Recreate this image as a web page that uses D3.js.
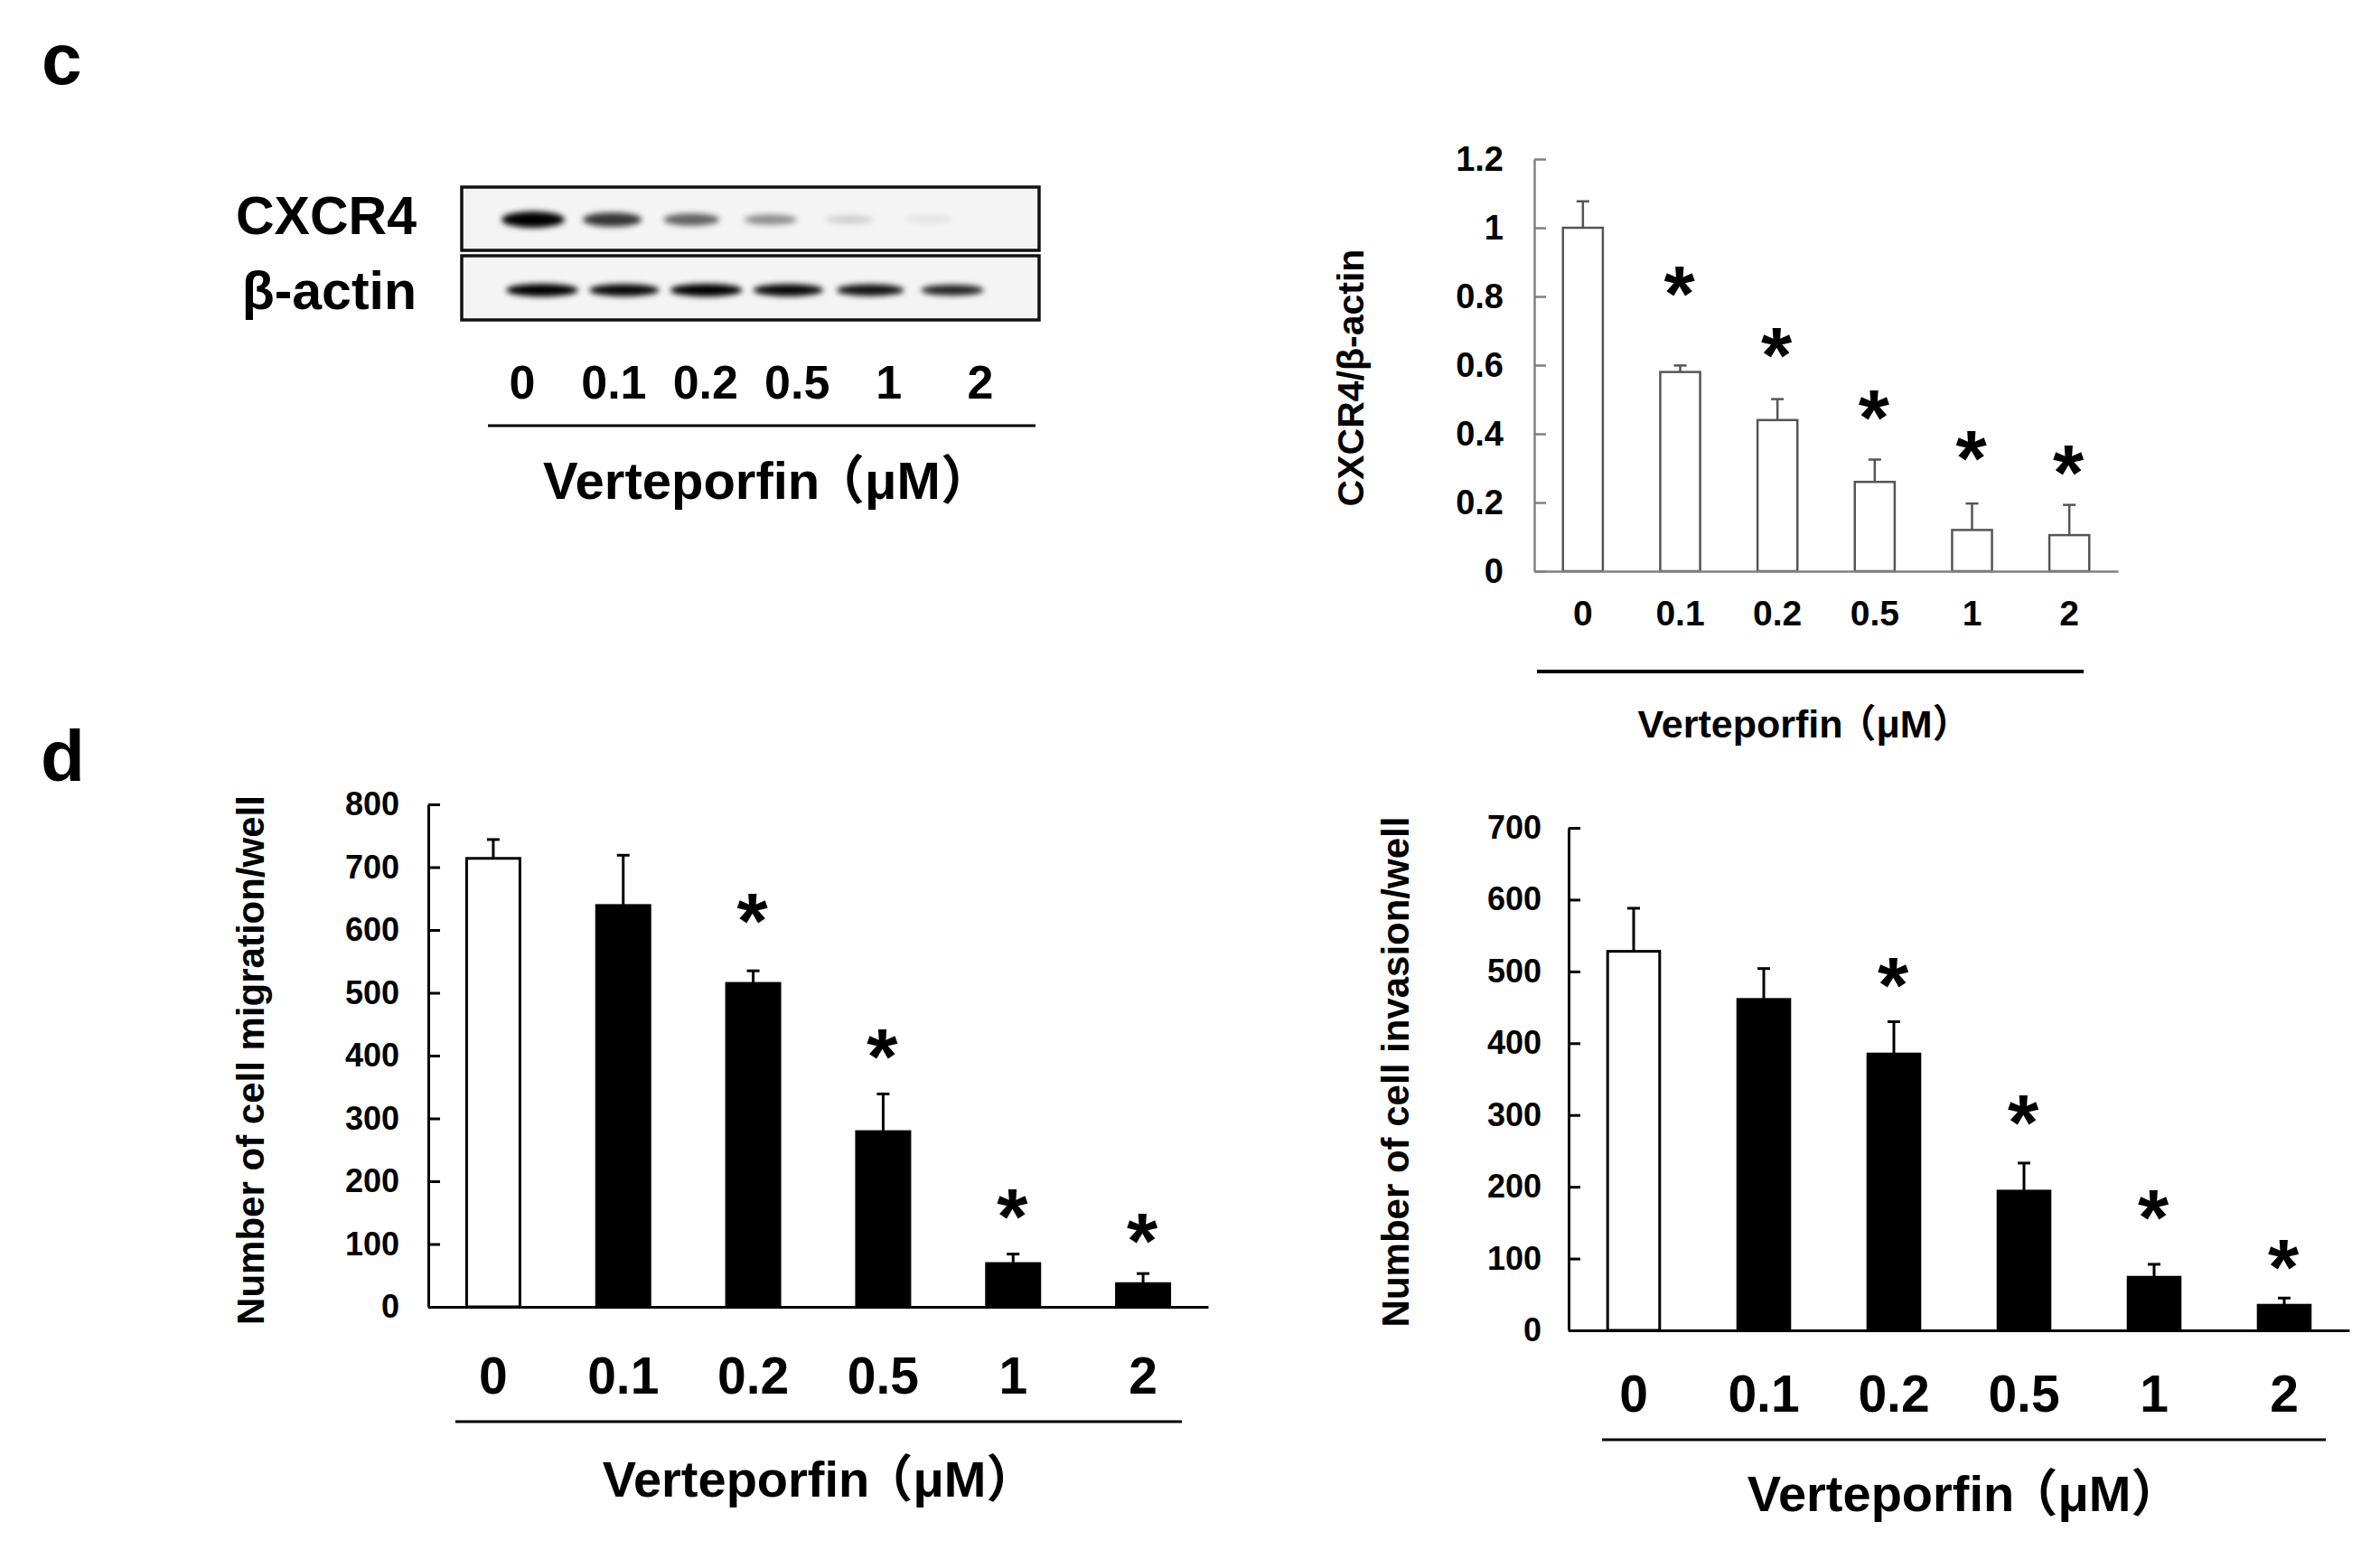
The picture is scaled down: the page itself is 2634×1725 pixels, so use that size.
<!DOCTYPE html>
<html><head><meta charset="utf-8">
<script src="https://cdn.jsdelivr.net/npm/d3@7"></script>
<style>
body{margin:0;background:#fff}
svg{display:block}
text{font-family:"Liberation Sans",Arial,"Noto Sans CJK SC",sans-serif;font-weight:bold;fill:#000}
</style>
</head><body>
<svg id="fig" width="2634" height="1725"></svg>
<script>
// ---------------- data ----------------
const doses = ["0", "0.1", "0.2", "0.5", "1", "2"];
const xTitleMain = "Verteporfin";
const xTitleUnit = "（μM）";

// western blot band intensities (relative darkness)
const cxcr4Band = [1.0, 0.78, 0.6, 0.42, 0.16, 0.08];
const actinBand = [1.0, 0.97, 1.0, 0.97, 0.93, 0.86];

// CXCR4/β-actin
const cxcr4Mean = [1.0, 0.58, 0.44, 0.26, 0.12, 0.105];
const cxcr4Err  = [0.077, 0.019, 0.061, 0.065, 0.077, 0.088];
const cxcr4Star = [null, 0.84, 0.66, 0.48, 0.36, 0.32];
const cxcr4Ticks = [0, 0.2, 0.4, 0.6, 0.8, 1, 1.2];

// migration
const migMean = [714, 639, 515, 279, 69, 37];
const migErr  = [30, 80, 20, 60, 15, 16];
const migStar = [null, null, 632, 416, 162, 123];
const migTicks = [0, 100, 200, 300, 400, 500, 600, 700, 800];

// invasion
const invMean = [528, 461, 385, 194, 74, 35];
const invErr  = [60, 43, 45, 39, 18, 10];
const invStar = [null, null, 496, 305, 173, 103];
const invTicks = [0, 100, 200, 300, 400, 500, 600, 700];

// ---------------- drawing ----------------
const svg = d3.select("#fig");
svg.append("rect").attr("width", 2634).attr("height", 1725).attr("fill", "#fff");

const defs = svg.append("defs");
defs.append("filter").attr("id", "blur").attr("x", "-50%").attr("y", "-100%").attr("width", "200%").attr("height", "300%")
  .append("feGaussianBlur").attr("stdDeviation", 3.2);

function xTitle(sel, x, y, fs) {
  const t = sel.append("text").attr("x", x).attr("y", y).attr("text-anchor", "middle").attr("font-size", fs);
  t.append("tspan").text(xTitleMain);
  t.append("tspan").attr("dx", -0.14 * fs).text(xTitleUnit);
  return t;
}

// panel letters
svg.append("text").attr("x", 46).attr("y", 93).attr("font-size", 80).text("c");
svg.append("text").attr("x", 45).attr("y", 864).attr("font-size", 80).text("d");

// ---- western blot ----
const blot = svg.append("g");
const boxX = 511, boxW = 639;
const rows = [
  {name: "CXCR4", y: 207, h: 70, ty: 259, bands: cxcr4Band, lane: d3.scalePoint().domain(doses).range([590, 1028]),
   rx: v => 25 + 10 * v, ry: v => 3.5 + 5.5 * v, dy: 36},
  {name: "β-actin", y: 283, h: 71, ty: 342, bands: actinBand, lane: d3.scalePoint().domain(doses).range([600, 1054]),
   rx: v => 4 + 36 * v, ry: v => 7 * v, dy: 38}
];
rows.forEach(r => {
  blot.append("rect").attr("x", boxX).attr("y", r.y).attr("width", boxW).attr("height", r.h)
    .attr("fill", "#f4f4f4").attr("stroke", "#111").attr("stroke-width", 3.5);
  blot.append("g").attr("filter", "url(#blur)").selectAll("ellipse").data(r.bands).join("ellipse")
    .attr("cx", (d, i) => r.lane(doses[i]))
    .attr("cy", r.y + r.dy)
    .attr("rx", d => r.rx(d))
    .attr("ry", d => r.ry(d))
    .attr("fill", "#000")
    .attr("opacity", d => d);
  blot.append("text").attr("x", 461).attr("y", r.ty).attr("text-anchor", "end")
    .attr("font-size", 59).text(r.name);
});
const laneLab = d3.scalePoint().domain(doses).range([578, 1085]);
blot.selectAll(".lanelab").data(doses).join("text")
  .attr("x", d => laneLab(d)).attr("y", 441).attr("text-anchor", "middle")
  .attr("font-size", 52).text(d => d);
blot.append("line").attr("x1", 540).attr("x2", 1146).attr("y1", 471).attr("y2", 471)
  .attr("stroke", "#000").attr("stroke-width", 3);
xTitle(blot, 850, 552, 58);

// ---- bar chart helper ----
function barChart(o) {
  const g = svg.append("g");
  const x = d3.scaleBand().domain(doses).range([o.left, o.right])
    .paddingInner(o.pad).paddingOuter(o.pad / 2);
  const y = d3.scaleLinear().domain([0, o.max]).range([o.bottom, o.top]);
  const cx = i => x(doses[i]) + x.bandwidth() / 2;

  // error bars
  g.selectAll(".ev").data(o.mean).join("line")
    .attr("x1", (d, i) => cx(i)).attr("x2", (d, i) => cx(i))
    .attr("y1", d => y(d)).attr("y2", (d, i) => y(d + o.err[i]))
    .attr("stroke", o.errColor).attr("stroke-width", o.ew);
  g.selectAll(".ec").data(o.mean).join("line")
    .attr("x1", (d, i) => cx(i) - 7).attr("x2", (d, i) => cx(i) + 7)
    .attr("y1", (d, i) => y(d + o.err[i])).attr("y2", (d, i) => y(d + o.err[i]))
    .attr("stroke", o.errColor).attr("stroke-width", o.ew);

  // bars
  g.selectAll(".bar").data(o.mean).join("rect")
    .attr("x", (d, i) => x(doses[i])).attr("width", x.bandwidth())
    .attr("y", d => y(d)).attr("height", d => y(0) - y(d))
    .attr("fill", (d, i) => o.fill[i]).attr("stroke", o.barStroke).attr("stroke-width", o.bw);

  // y axis (ticks pointing inward)
  const ay = g.append("g").attr("transform", `translate(${o.left},0)`)
    .call(d3.axisLeft(y).tickValues(o.ticks).tickSize(-13).tickSizeOuter(0)
      .tickPadding(o.tp).tickFormat(d => String(d)));
  ay.select(".domain").attr("stroke", o.axisColor).attr("stroke-width", o.aw);
  ay.selectAll(".tick line").attr("stroke", o.axisColor).attr("stroke-width", o.aw);
  ay.selectAll(".tick text").attr("font-size", o.tf).attr("fill", "#000")
    .attr("font-family", '"Liberation Sans",Arial,sans-serif').attr("font-weight", "bold");

  // x axis (baseline + category labels)
  const ax = g.append("g").attr("transform", `translate(0,${o.bottom})`)
    .call(d3.axisBottom(x).tickSize(0).tickSizeOuter(0).tickPadding(o.xp));
  ax.select(".domain").attr("stroke", o.axisColor).attr("stroke-width", o.aw);
  ax.selectAll(".tick text").attr("font-size", o.xf).attr("fill", "#000")
    .attr("font-family", '"Liberation Sans",Arial,sans-serif').attr("font-weight", "bold");

  // significance stars
  g.selectAll(".star").data(o.star.map((s, i) => ({s, i})).filter(d => d.s !== null)).join("text")
    .attr("x", d => cx(d.i) - 1).attr("y", d => y(d.s) + 0.48 * o.sf)
    .attr("text-anchor", "middle").attr("font-size", o.sf).text("*");

  // y title
  g.append("text").attr("transform", `translate(${o.ytx},${o.yty}) rotate(-90)`)
    .attr("text-anchor", "middle").attr("font-size", o.ytf).text(o.ytitle);

  // underline + x title
  g.append("line").attr("x1", o.ul[0]).attr("x2", o.ul[1]).attr("y1", o.ul[2]).attr("y2", o.ul[2])
    .attr("stroke", "#000").attr("stroke-width", o.ulw);
  xTitle(g, o.xtx, o.xty, o.xtf);
}

// CXCR4 / β-actin chart
barChart({
  left: 1698, right: 2344, top: 176, bottom: 632, max: 1.2, pad: 0.59,
  mean: cxcr4Mean, err: cxcr4Err, star: cxcr4Star, ticks: cxcr4Ticks,
  fill: doses.map(() => "#fff"), barStroke: "#555", bw: 2.5,
  errColor: "#555", ew: 2.5, axisColor: "#808080", aw: 2.5,
  tp: 34, tf: 38, xp: 32, xf: 39, sf: 88,
  ytitle: "CXCR4/β-actin", ytx: 1509, yty: 418, ytf: 41,
  ul: [1701, 2306, 743], ulw: 4, xtx: 1997, xty: 816, xtf: 43
});

// migration chart
barChart({
  left: 474, right: 1337, top: 890, bottom: 1446, max: 800, pad: 0.59,
  mean: migMean, err: migErr, star: migStar, ticks: migTicks,
  fill: doses.map((d, i) => i === 0 ? "#fff" : "#000"), barStroke: "#000", bw: 3,
  errColor: "#000", ew: 3, axisColor: "#000", aw: 3,
  tp: 32, tf: 36, xp: 56, xf: 57, sf: 88,
  ytitle: "Number of cell migration/well", ytx: 292, yty: 1173, ytf: 42,
  ul: [504, 1308, 1573], ulw: 3, xtx: 907, xty: 1656, xtf: 56
});

// invasion chart
barChart({
  left: 1736, right: 2600, top: 916, bottom: 1472, max: 700, pad: 0.6,
  mean: invMean, err: invErr, star: invStar, ticks: invTicks,
  fill: doses.map((d, i) => i === 0 ? "#fff" : "#000"), barStroke: "#000", bw: 3,
  errColor: "#000", ew: 3, axisColor: "#000", aw: 3,
  tp: 30, tf: 36, xp: 50, xf: 57, sf: 88,
  ytitle: "Number of cell invasion/well", ytx: 1559, yty: 1186, ytf: 42,
  ul: [1773, 2574, 1593], ulw: 3, xtx: 2174, xty: 1672, xtf: 56
});
</script>
</body></html>
